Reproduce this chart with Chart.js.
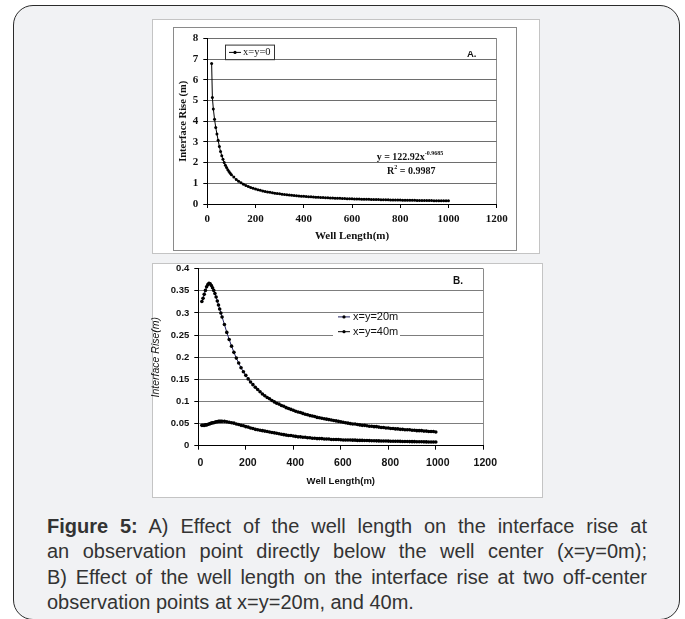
<!DOCTYPE html>
<html>
<head>
<meta charset="utf-8">
<script src="https://cdn.jsdelivr.net/npm/chart.js@4.4.1/dist/chart.umd.min.js"></script>
<style>
  html, body { margin: 0; padding: 0; background: #fff; }
  body { width: 685px; height: 619px; position: relative; overflow: hidden; font-family: "Liberation Sans", Arial, sans-serif; }
  .box { position: absolute; left: 13px; top: 5px; width: 667px; height: 615px; box-sizing: border-box;
         border: 1.5px solid #2b2b2b; border-radius: 20px; background: #f1f2f4; }
  .frame { position: absolute; background: #fff; border: 1px solid #c4c4c4; box-sizing: border-box; }
  #frameA { left: 152px; top: 19px; width: 388px; height: 235px; }
  #innerA { position: absolute; left: 173px; top: 27px; width: 344px; height: 224px; border: 1px solid #8a8a8a; box-sizing: border-box; }
  #frameB { left: 152px; top: 263px; width: 391px; height: 235px; }
  #chartA { position: absolute; left: 173px; top: 27px; }
  #chartB { position: absolute; left: 146px; top: 258px; }
  .caption { position: absolute; left: 47px; top: 514px; width: 600px; font-size: 20px; line-height: 25.3px; color: #333; }
  .caption .j { text-align: justify; text-align-last: justify; white-space: nowrap; }
</style>
</head>
<body>
<div class="box"></div>
<div class="frame" id="frameA"></div>
<div id="innerA"></div>
<div class="frame" id="frameB"></div>
<canvas id="chartA" width="343" height="223"></canvas>
<canvas id="chartB" width="396" height="239"></canvas>
<div class="caption">
  <div class="j"><b>Figure 5:</b> A) Effect of the well length on the interface rise at</div>
  <div class="j">an observation point directly below the well center (x=y=0m);</div>
  <div class="j">B) Effect of the well length on the interface rise at two off-center</div>
  <div>observation points at x=y=20m, and 40m.</div>
</div>
<script>
// ---- panel A: x=y=0
const wellLengthA = [18, 21, 25, 30, 35, 40, 45, 50, 55, 60, 65, 70, 75, 80, 85, 90, 95, 100,
  110, 120, 130, 140, 150, 160, 170, 180, 190, 200, 210, 220, 230, 240, 250, 260, 270, 280, 290, 300,
  310, 320, 330, 340, 350, 360, 370, 380, 390, 400, 410, 420, 430, 440, 450, 460, 470, 480, 490, 500,
  510, 520, 530, 540, 550, 560, 570, 580, 590, 600, 610, 620, 630, 640, 650, 660, 670, 680, 690, 700,
  710, 720, 730, 740, 750, 760, 770, 780, 790, 800, 810, 820, 830, 840, 850, 860, 870, 880, 890, 900,
  910, 920, 930, 940, 950, 960, 970, 980, 990, 1000];
const riseA = [6.8, 5.15, 4.6, 4.1, 3.7, 3.38, 3.08, 2.78, 2.54, 2.33, 2.16, 2.01, 1.88, 1.76, 1.66, 1.57, 1.49, 1.42,
  1.30, 1.19, 1.10, 1.03, 0.96, 0.90, 0.85, 0.80, 0.76, 0.726, 0.692, 0.662, 0.634, 0.609, 0.585, 0.563, 0.543, 0.524, 0.507, 0.490,
  0.475, 0.461, 0.447, 0.434, 0.422, 0.411, 0.400, 0.390, 0.380, 0.371, 0.362, 0.354, 0.346, 0.338, 0.331, 0.324, 0.317, 0.311, 0.305, 0.299,
  0.293, 0.288, 0.283, 0.278, 0.273, 0.268, 0.264, 0.259, 0.255, 0.251, 0.247, 0.243, 0.239, 0.235, 0.232, 0.228, 0.225, 0.222, 0.219, 0.216,
  0.213, 0.210, 0.207, 0.205, 0.202, 0.199, 0.197, 0.194, 0.192, 0.190, 0.187, 0.185, 0.183, 0.181, 0.179, 0.177, 0.175, 0.173, 0.171, 0.169,
  0.167, 0.166, 0.164, 0.162, 0.161, 0.159, 0.157, 0.156, 0.154, 0.153];
const xTicksA = [0, 200, 400, 600, 800, 1000, 1200];
const yTicksA = [0, 1, 2, 3, 4, 5, 6, 7, 8];

// ---- panel B: x=y=20m and x=y=40m
const wellLengthB = [15, 20, 25, 30, 35, 40, 45, 50, 55, 60, 65, 70, 75, 80, 85, 90, 95, 100,
  110, 120, 130, 140, 150, 160, 170, 180, 190, 200, 210, 220, 230, 240, 250, 260, 270, 280, 290, 300,
  310, 320, 330, 340, 350, 360, 370, 380, 390, 400, 410, 420, 430, 440, 450, 460, 470, 480, 490, 500,
  510, 520, 530, 540, 550, 560, 570, 580, 590, 600, 610, 620, 630, 640, 650, 660, 670, 680, 690, 700,
  710, 720, 730, 740, 750, 760, 770, 780, 790, 800, 810, 820, 830, 840, 850, 860, 870, 880, 890, 900,
  910, 920, 930, 940, 950, 960, 970, 980, 990, 1000];
const rise20 = [0.326, 0.333, 0.342, 0.351, 0.359, 0.364, 0.367, 0.366, 0.362, 0.357, 0.351, 0.344, 0.336, 0.327, 0.318, 0.309, 0.300, 0.291,
  0.274, 0.256, 0.240, 0.225, 0.211, 0.198, 0.187, 0.176, 0.167, 0.159, 0.151, 0.144, 0.138, 0.132, 0.127, 0.122, 0.117, 0.113, 0.109, 0.106,
  0.102, 0.099, 0.096, 0.094, 0.091, 0.089, 0.086, 0.084, 0.082, 0.080, 0.078, 0.076, 0.075, 0.073, 0.071, 0.070, 0.068, 0.067, 0.066, 0.064,
  0.063, 0.062, 0.061, 0.060, 0.059, 0.058, 0.057, 0.056, 0.055, 0.054, 0.053, 0.052, 0.051, 0.050, 0.049, 0.049, 0.048, 0.047, 0.046, 0.046,
  0.045, 0.044, 0.044, 0.043, 0.043, 0.042, 0.041, 0.041, 0.040, 0.040, 0.039, 0.039, 0.038, 0.038, 0.037, 0.037, 0.036, 0.036, 0.036, 0.035,
  0.035, 0.034, 0.034, 0.034, 0.033, 0.033, 0.032, 0.032, 0.032, 0.031];
const rise40 = [0.046, 0.046, 0.046, 0.047, 0.047, 0.048, 0.049, 0.050, 0.051, 0.052, 0.052, 0.053, 0.054, 0.054, 0.055, 0.055, 0.055, 0.055,
  0.055, 0.054, 0.053, 0.052, 0.051, 0.049, 0.048, 0.046, 0.045, 0.043, 0.042, 0.040, 0.039, 0.037, 0.036, 0.035, 0.034, 0.033, 0.032, 0.031,
  0.030, 0.029, 0.028, 0.027, 0.026, 0.025, 0.024, 0.023, 0.023, 0.022, 0.021, 0.020, 0.020, 0.019, 0.019, 0.018, 0.018, 0.017, 0.017, 0.016,
  0.016, 0.016, 0.015, 0.015, 0.015, 0.014, 0.014, 0.014, 0.014, 0.0135, 0.013, 0.013, 0.013, 0.013, 0.0125, 0.0125, 0.012, 0.012, 0.012, 0.0118,
  0.0116, 0.0115, 0.0113, 0.0112, 0.011, 0.0108, 0.0107, 0.0106, 0.0105, 0.0104, 0.0102, 0.0101, 0.010, 0.0099, 0.0098, 0.0096, 0.0095, 0.0094, 0.0093, 0.0092,
  0.0091, 0.009, 0.0089, 0.0088, 0.0087, 0.0086, 0.0085, 0.0084, 0.0083, 0.0082];
const xTicksB = [0, 200, 400, 600, 800, 1000, 1200];
const yTicksB = [0, 0.05, 0.1, 0.15, 0.2, 0.25, 0.3, 0.35, 0.4];

const serif = "'Liberation Serif', 'Times New Roman', serif";
const sans = "'Liberation Sans', Arial, sans-serif";

const toPoints = (xs, ys) => xs.map((x, i) => ({ x: x, y: ys[i] }));
const fixTicks = (list) => (scale) => { scale.ticks = list.map(v => ({ value: v })); };
const plain = (v) => String(+(+v).toFixed(2));
// only the last vertical line (the plot border at the right) is drawn
const rightEdgeOnly = (max, col) => (ctx) => (ctx.tick && ctx.tick.value === max) ? col : 'rgba(0,0,0,0)';

// legend, label and fit equation for panel A
const decorA = {
  id: 'decorA',
  afterDraw(chart) {
    const { ctx, chartArea: a } = chart;
    const ds = chart.data.datasets[0];
    ctx.save();
    // legend box
    const bx = a.left + 17.7, by = a.top + 6, bw = 49, bh = 14.6;
    ctx.fillStyle = '#fff';
    ctx.fillRect(bx, by, bw, bh);
    ctx.strokeStyle = '#333';
    ctx.lineWidth = 1;
    ctx.strokeRect(bx + 0.5, by + 0.5, bw, bh);
    const cy = by + bh / 2 + 0.5;
    ctx.strokeStyle = ds.borderColor;
    ctx.beginPath(); ctx.moveTo(bx + 4, cy); ctx.lineTo(bx + 16, cy); ctx.stroke();
    ctx.fillStyle = ds.pointBackgroundColor;
    ctx.beginPath(); ctx.arc(bx + 10, cy, 1.6, 0, Math.PI * 2); ctx.fill();
    ctx.fillStyle = '#111';
    ctx.font = '10.5px ' + serif;
    ctx.textBaseline = 'middle';
    ctx.textAlign = 'left';
    ctx.fillText(ds.label, bx + 18, cy);
    // panel letter
    ctx.font = 'bold 9.5px ' + sans;
    ctx.fillText('A.', a.right - 29.7, a.top + 15.6);
    // trend line equation
    const drawSup = (main, sup, tail, cx, y) => {
      ctx.font = 'bold 10px ' + serif;
      const w1 = ctx.measureText(main).width;
      const w3 = ctx.measureText(tail).width;
      ctx.font = 'bold 6px ' + serif;
      const w2 = ctx.measureText(sup).width;
      let x = cx - (w1 + w2 + w3) / 2;
      ctx.font = 'bold 10px ' + serif;
      ctx.fillText(main, x, y);
      ctx.font = 'bold 6px ' + serif;
      ctx.fillText(sup, x + w1, y - 4);
      ctx.font = 'bold 10px ' + serif;
      ctx.fillText(tail, x + w1 + w2, y);
    };
    drawSup('y = 122.92x', '-0.9685', '', a.left + 202.7, a.top + 118.5);
    drawSup('R', '2', ' = 0.9987', a.left + 204, a.top + 133);
    ctx.restore();
  }
};

// legend and label for panel B
const decorB = {
  id: 'decorB',
  afterDraw(chart) {
    const { ctx, chartArea: a } = chart;
    ctx.save();
    ctx.fillStyle = '#fff';
    ctx.fillRect(a.left + 134.7, a.top + 45.5, 67, 22.5);
    const rows = [a.top + 48.2, a.top + 63];
    chart.data.datasets.forEach((ds, i) => {
      const y = rows[i];
      ctx.strokeStyle = ds.borderColor;
      ctx.lineWidth = 1;
      ctx.beginPath(); ctx.moveTo(a.left + 139.7, y); ctx.lineTo(a.left + 151.7, y); ctx.stroke();
      ctx.fillStyle = '#000';
      ctx.beginPath(); ctx.arc(a.left + 145.7, y, 1.6, 0, Math.PI * 2); ctx.fill();
      ctx.fillStyle = '#111';
      ctx.font = '11px ' + sans;
      ctx.textBaseline = 'middle';
      ctx.textAlign = 'left';
      ctx.fillText(ds.label, a.left + 154.7, y);
    });
    ctx.fillStyle = '#111';
    ctx.font = 'bold 10px ' + sans;
    ctx.textBaseline = 'middle';
    ctx.fillText('B.', a.right - 30.3, a.top + 12.4);
    ctx.restore();
  }
};

new Chart(document.getElementById('chartA'), {
  type: 'line',
  data: {
    datasets: [{
      label: 'x=y=0',
      data: toPoints(wellLengthA, riseA),
      borderColor: '#000',
      borderWidth: 1,
      pointRadius: 1.5,
      pointBorderWidth: 0,
      pointBackgroundColor: '#000',
      tension: 0
    }]
  },
  options: {
    responsive: false,
    animation: false,
    devicePixelRatio: 1,
    layout: { padding: { top: 9.7, right: 19.3, left: 0, bottom: 0 } },
    plugins: { legend: { display: false }, tooltip: { enabled: false } },
    scales: {
      x: {
        type: 'linear', min: 0, max: 1200,
        afterBuildTicks: fixTicks(xTicksA),
        afterFit: (s) => { s.height = 46; },
        grid: { color: rightEdgeOnly(1200, '#8a8a8a'), tickColor: '#000', tickLength: 4 },
        border: { display: true, color: '#000', width: 1 },
        ticks: { color: '#111', padding: 5, maxRotation: 0, callback: plain,
                 font: { family: serif, size: 11, weight: 'bold' } },
        title: { display: true, text: 'Well Length(m)', color: '#111', padding: { top: 0, bottom: 7 },
                 font: { family: serif, size: 11, weight: 'bold' } }
      },
      y: {
        min: 0, max: 8,
        afterBuildTicks: fixTicks(yTicksA),
        afterFit: (s) => { s.width = 34.3; },
        grid: { color: '#6e6e6e', tickColor: '#000', tickLength: 4 },
        border: { display: true, color: '#000', width: 1 },
        ticks: { color: '#111', padding: 5, callback: plain, font: { family: serif, size: 11, weight: 'bold' } },
        title: { display: true, text: 'Interface Rise (m)', color: '#111', padding: { top: 4, bottom: 0 },
                 font: { family: serif, size: 10.5, weight: 'bold' } }
      }
    }
  },
  plugins: [decorA]
});

new Chart(document.getElementById('chartB'), {
  type: 'line',
  data: {
    datasets: [{
      label: 'x=y=20m',
      data: toPoints(wellLengthB, rise20),
      borderColor: '#1f1f5f',
      borderWidth: 1,
      pointRadius: 1.8,
      pointBorderWidth: 0,
      pointBackgroundColor: '#000',
      tension: 0
    }, {
      label: 'x=y=40m',
      data: toPoints(wellLengthB, rise40),
      borderColor: '#000',
      borderWidth: 1,
      pointRadius: 1.8,
      pointBorderWidth: 0,
      pointBackgroundColor: '#000',
      tension: 0
    }]
  },
  options: {
    responsive: false,
    animation: false,
    devicePixelRatio: 1,
    layout: { padding: { top: 9.3, right: 58.7, left: 0, bottom: 0 } },
    plugins: { legend: { display: false }, tooltip: { enabled: false } },
    scales: {
      x: {
        type: 'linear', min: 0, max: 1200,
        afterBuildTicks: fixTicks(xTicksB),
        afterFit: (s) => { s.height = 51.3; },
        grid: { color: rightEdgeOnly(1200, '#8a8a8a'), tickColor: '#000', tickLength: 4 },
        border: { display: true, color: '#000', width: 1 },
        ticks: { color: '#111', padding: 7, labelOffset: 2, maxRotation: 0, callback: plain,
                 font: { family: sans, size: 10.5, weight: 'bold' } },
        title: { display: true, text: 'Well Length(m)', color: '#111', padding: { top: 0, bottom: 9.6 },
                 font: { family: sans, size: 9.5, weight: 'bold' } }
      },
      y: {
        min: 0, max: 0.4,
        afterBuildTicks: fixTicks(yTicksB),
        afterFit: (s) => { s.width = 52.3; },
        grid: { color: '#7d7d7d', tickColor: '#000', tickLength: 4 },
        border: { display: true, color: '#000', width: 1 },
        ticks: { color: '#111', padding: 5, callback: plain,
                 font: { family: sans, size: 9.5, weight: 'bold' } },
        title: { display: true, text: 'Interface Rise(m)', color: '#111', padding: { top: 3.7, bottom: 0 },
                 font: { family: sans, size: 10.5, style: 'italic' } }
      }
    }
  },
  plugins: [decorB]
});
</script>
</body>
</html>
